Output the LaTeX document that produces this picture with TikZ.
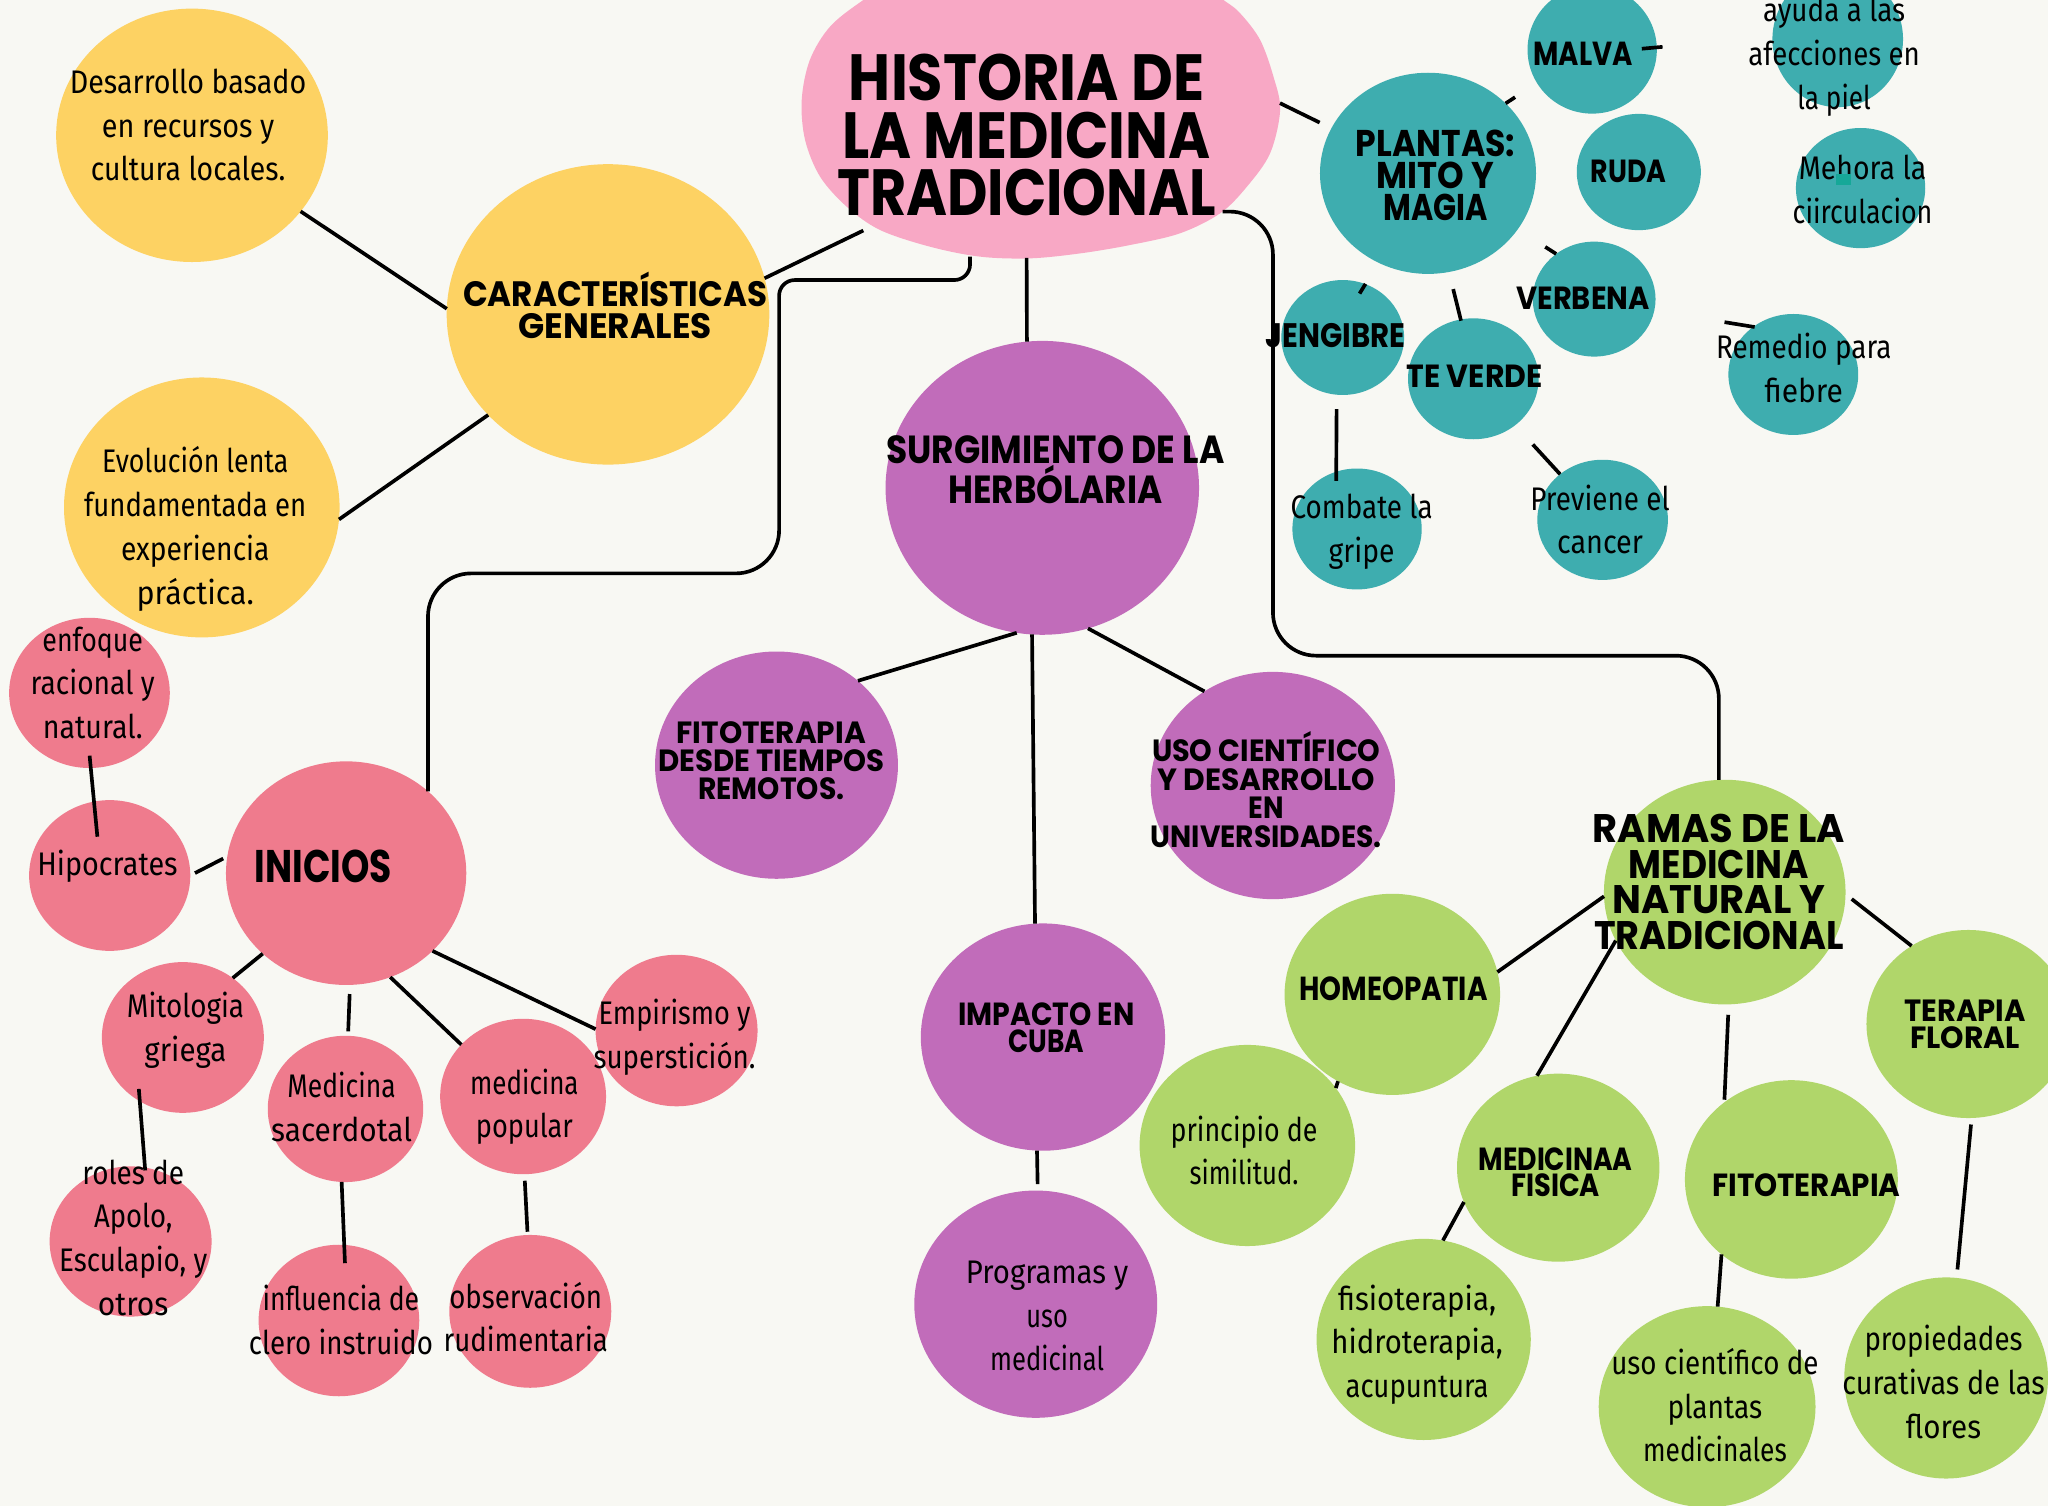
\documentclass[tikz,border=0pt]{standalone}
\usepackage{fontspec}
\usepackage{graphicx}
\usetikzlibrary{shapes.geometric}
\newfontfamily\bodyf{Fira Sans}
\newfontfamily\headf{Poppins}
\newcommand\hfont[2]{\headf\bfseries\fontsize{#1}{#2}\selectfont}
\newcommand\bfont{\bodyf\fontsize{25}{33.5}\selectfont}
\newsavebox\fitbox
\newlength\fitlen
\newcommand\fw[2]{\sbox\fitbox{#2}\fitlen=\wd\fitbox\pgfmathsetmacro\fitr{#1/\fitlen}\scalebox{\fitr}[1]{\usebox\fitbox}}
\newcommand\mlines[1]{\vtop{\halign{\hfil##\hfil\cr#1\crcr}}}
\definecolor{bg}{HTML}{F8F8F3}
\definecolor{yel}{HTML}{FDD263}
\definecolor{tpink}{HTML}{F8A8C5}
\definecolor{tealc}{HTML}{3EADAF}
\definecolor{purp}{HTML}{C16CBA}
\definecolor{salm}{HTML}{EF7B8D}
\definecolor{grn}{HTML}{B0D66A}
\definecolor{blotc}{HTML}{16A898}
\tikzset{
  bubble/.style={ellipse, inner sep=0pt, outer sep=0pt, draw=none},
  conn/.style={line width=2.8pt, black},
  txt/.style={anchor=base, inner sep=0pt, outer sep=0pt, text=black},
}
\newcommand\bub[6]{\node[bubble, fill=#2, minimum width=2*#5pt, minimum height=2*#6pt] (#1) at (#3,#4) {};}
\begin{document}
\begin{tikzpicture}[x=1pt,y=-1pt]
\useasboundingbox (0,0) rectangle (1568,1153);
\begin{scope}
\clip (0,0) rectangle (1568,1153);
\fill[bg] (0,0) rectangle (1568,1153);
% title blob
\fill[tpink] plot[smooth cycle, tension=0.55] coordinates {
 (661,0) (635.5,20.4) (620,46) (613.8,76.6) (616.4,107.2) (627.9,135.3)
 (648.3,158.3) (673.8,176.1) (712.1,188.9) (750.4,196.5) (788.7,197.8)
 (827,194) (865.2,187.6) (903.5,178.6) (934.2,163.3) (954.6,143)
 (972.4,117.4) (980.1,84.2) (975,58.7) (964.8,30.6) (949.5,10.2)
 (936.7,0) (900,-25) (800,-30) (700,-25)};
\coordinate (tcar) at (661,176.5);
\coordinate (tpl) at (980,79);
\coordinate (tsur) at (786,197.5);
\coordinate (tini) at (742.7,196.5);
\coordinate (tram) at (936,162);
% bubbles
\bub{y1}{yel}{147}{103.6}{104}{97}
\bub{car}{yel}{465.5}{240.7}{123.5}{115}
\bub{y2}{yel}{154.5}{388.5}{105.5}{99.5}
\bub{plantas}{tealc}{1093.3}{132.7}{82.7}{77}
\bub{malva}{tealc}{1219}{38}{49.5}{49}
\bub{ruda}{tealc}{1254.7}{131.7}{47.5}{44.5}
\bub{ayuda}{tealc}{1407}{30}{50}{52}
\bub{mejora}{tealc}{1424.5}{144}{49.5}{46}
\bub{verbena}{tealc}{1220.5}{229}{47}{44}
\bub{jeng}{tealc}{1028}{258.4}{47}{44}
\bub{tev}{tealc}{1128}{290}{50}{46.3}
\bub{remedio}{tealc}{1373}{286.7}{49.7}{46.3}
\bub{combate}{tealc}{1039}{405}{49.5}{46.3}
\bub{previene}{tealc}{1227}{398}{50}{46}
\bub{surg}{purp}{798}{373.5}{120}{112.5}
\bub{fitop}{purp}{594.5}{585.8}{93}{87}
\bub{uso}{purp}{974.5}{601.4}{93.5}{87}
\bub{impacto}{purp}{798.5}{794}{93.5}{87}
\bub{prog}{purp}{793}{998.5}{93}{87}
\bub{ini}{salm}{265}{668.5}{92}{85.6}
\bub{enf}{salm}{68.5}{530.5}{61.5}{57.5}
\bub{hip}{salm}{84}{670.3}{61.7}{57.7}
\bub{mit}{salm}{140}{794.3}{62}{57.7}
\bub{roles}{salm}{100}{950.5}{62}{57.5}
\bub{sac}{salm}{264.5}{849}{59.5}{56}
\bub{inf}{salm}{259.5}{1011}{61.5}{58}
\bub{pop}{salm}{400.5}{839.5}{63.5}{59.5}
\bub{obs}{salm}{406}{1004}{62}{58.5}
\bub{emp}{salm}{518}{789}{62}{58}
\bub{ramas}{grn}{1320.5}{683}{92.5}{86}
\bub{hom}{grn}{1066}{761.3}{82.5}{77}
\bub{ter}{grn}{1507}{784}{78}{72}
\bub{prin}{grn}{955}{877}{82.5}{77}
\bub{fis}{grn}{1193}{894}{77.5}{72}
\bub{fisio}{grn}{1090}{1025.5}{82}{77}
\bub{usop}{grn}{1307}{1077}{83}{77}
\bub{prop}{grn}{1490}{1055}{78}{77}
\bub{fitog}{grn}{1371.5}{903}{81.5}{76}
% connectors: title
\draw[conn] (car.13) -- (tcar);
\draw[conn, shorten >=10pt] (tpl) -- (plantas.155);
\draw[conn] (tsur) -- (surg.96);
\draw[conn] (tini) [rounded corners=12pt] |- (596.5,214.4) [rounded corners=33pt] -- (596.5,439) -| (ini.45);
\draw[conn, rounded corners=33pt] (tram) -| (974.6,502) -| (ramas.93);
% yellow
\draw[conn] (y1.-35) -- (car.178);
\draw[conn] (y2.-5) -- (car.220);
% purple
\draw[conn] (surg.-100) -- (fitop.46);
\draw[conn] (surg.-94) -- (impacto.94);
\draw[conn] (surg.-72) -- (uso.126);
\draw[conn, shorten >=5pt] (impacto.-93) -- (prog.89);
% teal
\draw[conn, shorten >=20pt] (plantas.42) -- (malva.211);
\draw[conn, shorten <=-11.5pt, shorten >=84.5pt] (malva.2) -- (ayuda.178);
\draw[conn, shorten <=25pt] (plantas.-32) -- (verbena.130);
\draw[conn, shorten <=19pt, shorten >=-8.5pt] (plantas.-119) -- (jeng.67);
\draw[conn, shorten <=13.5pt, shorten >=-1pt] (plantas.-78) -- (tev.102);
\draw[conn, shorten <=54.5pt, shorten >=-1pt] (verbena.-11) -- (remedio.130);
\draw[conn, shorten <=11pt, shorten >=-7pt] (jeng.-96) -- (combate.110);
\draw[conn, shorten <=20pt] (tev.-48) -- (previene.133);
% pink
\draw[conn, shorten <=-9.5pt, shorten >=-27pt] (enf.-89) -- (hip.102);
\draw[conn, shorten <=4pt, shorten >=3.5pt] (hip.0) -- (ini.172);
\draw[conn] (ini.-136) -- (mit.50);
\draw[conn, shorten <=7pt, shorten >=3.4pt] (ini.-88) -- (sac.88);
\draw[conn] (ini.-67) -- (pop.140);
\draw[conn] (ini.-42) -- (emp.179);
\draw[conn, shorten <=-9.5pt, shorten >=-2.2pt] (mit.-124) -- (roles.79);
\draw[conn, shorten >=-14pt] (sac.-93) -- (inf.86);
\draw[conn, shorten <=5pt, shorten >=2.5pt] (pop.-89) -- (obs.92);
% green
\draw[conn] (ramas.182) -- (hom.12);
\draw[conn] (ramas.204) -- (fis.103);
\draw[conn, shorten <=8pt, shorten >=2pt] (ramas.-88) -- (fitog.131);
\draw[conn, shorten <=6pt] (ramas.-1) -- (ter.126);
\draw[conn] (hom.-122) -- (prin.33);
\draw[conn] (fis.200) -- (fisio.79);
\draw[conn] (fitog.-133) -- (usop.84);
\draw[conn, shorten <=5pt, shorten >=6.5pt] (ter.-88) -- (prop.84);
% headings
\node[txt, font={\hfont{50}{44}}] (title) at (786,77) {\mlines{\fw{272}{HISTORIA DE}\cr\fw{282}{LA MEDICINA}\cr\fw{290}{TRADICIONAL}}};
\node[txt, font={\hfont{27}{24}}] (cart) at (471,235) {\mlines{\fw{233}{CARACTERÍSTICAS}\cr\fw{148}{GENERALES}}};
\node[txt, font={\hfont{30}{25}}] (surgt) at (808,355) {\mlines{\fw{259}{SURGIMIENTO DE LA}\cr\fw{164}{HERBÓLARIA}}};
\node[txt, font={\hfont{23.5}{21.7}}] (fitopt) at (590.5,569) {\mlines{\fw{145}{FITOTERAPIA}\cr\fw{173}{DESDE TIEMPOS}\cr\fw{112}{REMOTOS.}}};
\node[txt, font={\hfont{23.5}{22}}] (usot) at (969.5,583) {\mlines{\fw{175}{USO CIENTÍFICO}\cr\fw{167}{Y DESARROLLO}\cr\fw{27}{EN}\cr\fw{177}{UNIVERSIDADES.}}};
\node[txt, font={\hfont{24.5}{21}}] (impactot) at (801,785) {\mlines{\fw{135}{IMPACTO EN}\cr\fw{58}{CUBA}}};
\node[txt, font={\hfont{28.5}{24.5}}] (plantast) at (1099,120) {\mlines{\fw{122}{PLANTAS:}\cr\fw{90}{MITO Y}\cr\fw{80}{MAGIA}}};
\node[txt, font={\hfont{25.5}{25}}] (malvat) at (1212,50) {\fw{76}{MALVA}};
\node[txt, font={\hfont{24.5}{25}}] (rudat) at (1247,140) {\fw{58}{RUDA}};
\node[txt, font={\hfont{24.5}{25}}] (verbenat) at (1212,237) {\fw{102}{VERBENA}};
\node[txt, font={\hfont{26}{25}}] (jengt) at (1022.5,266) {\fw{107}{JENGIBRE}};
\node[txt, font={\hfont{24.5}{25}}] (tevt) at (1129,297) {\fw{104}{TE VERDE}};
\node[txt, font={\hfont{35}{35}}] (init) at (247.5,676) {\fw{105}{INICIOS}};
\node[txt, font={\hfont{30.5}{27.3}}] (ramast) at (1316,645) {\mlines{\fw{193}{RAMAS DE LA}\cr\fw{138}{MEDICINA}\cr\fw{163}{NATURAL Y}\cr\fw{191}{TRADICIONAL}}};
\node[txt, font={\hfont{25.5}{25}}] (homt) at (1067,766) {\fw{144}{HOMEOPATIA}};
\node[txt, font={\hfont{23.5}{21}}] (tert) at (1504.5,782) {\mlines{\fw{93}{TERAPIA}\cr\fw{84}{FLORAL}}};
\node[txt, font={\hfont{24.5}{20}}] (fist) at (1191,896) {\mlines{\fw{118}{MEDICINAA}\cr\fw{68}{FISICA}}};
\node[txt, font={\hfont{24.5}{25}}] (fitogt) at (1383,916) {\fw{144}{FITOTERAPIA}};
% body texts
\node[txt, font=\bfont] (y1t) at (144,71.5) {\mlines{\fw{181}{Desarrollo basado}\cr\fw{132}{en recursos y}\cr\fw{149}{cultura locales.}}};
\node[txt, font=\bfont] (y2t) at (149.5,362) {\mlines{\fw{142.6}{Evolución lenta}\cr\fw{170}{fundamentada en}\cr\fw{113.7}{experiencia}\cr\fw{89.9}{práctica.}}};
\node[txt, font=\bfont] (enft) at (71,498.5) {\mlines{\fw{77}{enfoque}\cr\fw{95}{racional y}\cr\fw{76.5}{natural.}}};
\node[txt, font=\bfont] (hipt) at (82.3,670.4) {\fw{107.4}{Hipocrates}};
\node[txt, font=\bfont] (mitt) at (142,779) {\mlines{\fw{89.7}{Mitologia}\cr\fw{62.8}{griega}}};
\node[txt, font=\bfont] (rolest) at (102,906.6) {\mlines{\fw{78}{roles de}\cr\fw{60}{Apolo,}\cr\fw{113.5}{Esculapio, y}\cr\fw{54}{otros}}};
\node[txt, font=\bfont] (sact) at (261.5,840.3) {\mlines{\fw{83}{Medicina}\cr\fw{107.8}{sacerdotal}}};
\node[txt, font=\bfont] (inft) at (261,1003.2) {\mlines{\fw{120}{influencia de}\cr\fw{141}{clero instruido}}};
\node[txt, font=\bfont] (popt) at (401.5,837.6) {\mlines{\fw{83}{medicina}\cr\fw{74.3}{popular}}};
\node[txt, font=\bfont] (obst) at (402.5,1001.6) {\mlines{\fw{117}{observación}\cr\fw{125.7}{rudimentaria}}};
\node[txt, font=\bfont] (empt) at (516.5,784.5) {\mlines{\fw{116.2}{Empirismo y}\cr\fw{124}{superstición.}}};
\node[txt, font=\bfont] (progt) at (801.7,982.5) {\mlines{\fw{124.3}{Programas y}\cr\fw{31.7}{uso}\cr\fw{87.3}{medicinal}}};
\node[txt, font=\bfont] (print) at (952.5,873.6) {\mlines{\fw{112.4}{principio de}\cr\fw{83.4}{similitud.}}};
\node[txt, font=\bfont] (fisiot) at (1085,1003) {\mlines{\fw{121}{fisioterapia,}\cr\fw{131.3}{hidroterapia,}\cr\fw{109.6}{acupuntura}}};
\node[txt, font=\bfont] (usopt) at (1313,1052.3) {\mlines{\fw{158.7}{uso científico de}\cr\fw{72.5}{plantas}\cr\fw{110}{medicinales}}};
\node[txt, font=\bfont] (propt) at (1488,1034) {\mlines{\fw{121}{propiedades}\cr\fw{155}{curativas de las}\cr\fw{57.5}{flores}}};
\node[txt, font=\bfont] (ayudat) at (1404.2,16.6) {\mlines{\fw{108.8}{ayuda a las}\cr\fw{131.4}{afecciones en}\cr\fw{56.3}{la piel}}};
\node[txt, font=\bfont] (mejorat) at (1426,137.8) {\mlines{\fw{97.6}{Mehora la}\cr\fw{107}{ciirculacion}}};
\node[txt, font=\bfont] (remediot) at (1381,274.4) {\mlines{\fw{134.3}{Remedio para}\cr\fw{60}{fiebre}}};
\node[txt, font=\bfont] (combatet) at (1042.5,396.9) {\mlines{\fw{108.7}{Combate la}\cr\fw{50.4}{gripe}}};
\node[txt, font=\bfont] (prevt) at (1225,390.5) {\mlines{\fw{106.7}{Previene el}\cr\fw{65.8}{cancer}}};
\fill[blotc] (1406,133) rectangle (1417,142);
\end{scope}
\end{tikzpicture}
\end{document}
